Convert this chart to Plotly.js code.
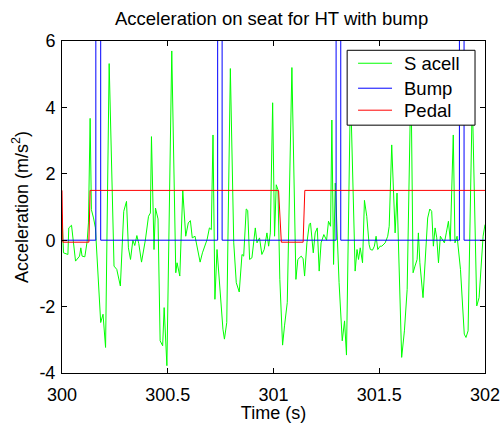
<!DOCTYPE html>
<html>
<head>
<meta charset="utf-8">
<script src="https://cdn.plot.ly/plotly-3.0.1.min.js"></script>
<style>html,body{margin:0;padding:0;background:#fff;}#chart{width:502px;height:423px;}</style>
</head>
<body>
<div id="chart"></div>
<script>
// S acell (green)
const accelTime = [
 300.000,300.007,300.028,300.032,300.045,300.064,300.083,300.089,300.095,300.108,
 300.119,300.125,300.133,300.139,300.149,300.158,300.183,300.194,300.206,300.223,
 300.246,300.259,300.276,300.292,300.305,300.314,300.324,300.335,300.344,300.354,
 300.363,300.376,300.394,300.409,300.418,300.423,300.435,300.442,300.454,300.464,
 300.476,300.483,300.496,300.519,300.538,300.544,300.557,300.571,300.585,300.597,
 300.607,300.616,300.629,300.642,300.653,300.664,300.675,300.686,300.697,300.706,
 300.714,300.723,300.733,300.749,300.761,300.768,300.779,300.796,300.812,300.824,
 300.838,300.851,300.859,300.871,300.878,300.887,300.898,300.914,300.922,300.934,
 300.945,300.956,300.969,300.977,300.985,300.996,301.005,301.013,301.021,301.030,
 301.043,301.052,301.065,301.087,301.106,301.115,301.131,301.140,301.147,301.158,
 301.169,301.175,301.188,301.197,301.207,301.216,301.225,301.238,301.251,301.260,
 301.270,301.276,301.284,301.292,301.310,301.325,301.336,301.345,301.364,301.386,
 301.395,301.402,301.410,301.421,301.430,301.441,301.452,301.458,301.468,301.477,
 301.485,301.493,301.504,301.512,301.528,301.540,301.547,301.559,301.575,301.584,
 301.591,301.606,301.619,301.632,301.650,301.660,301.669,301.679,301.685,301.692,
 301.707,301.720,301.729,301.739,301.748,301.756,301.764,301.772,301.780,301.789,
 301.798,301.808,301.817,301.827,301.836,301.850,301.858,301.868,301.884,301.902,
 301.910,301.920,301.940,301.961,301.972,301.981,301.991,302.000
];
const accelValue = [
 0.77,-0.38,-0.43,0.37,0.45,-0.63,-0.48,-0.23,-0.48,-0.50,
 -0.03,0.52,3.67,0.92,0.67,0.37,-2.48,-2.23,-3.23,5.32,
 -0.78,-0.88,-1.38,0.87,1.17,-0.23,-0.58,0.00,-0.16,0.14,
 -0.10,-0.66,0.00,0.72,0.82,3.12,-0.28,0.97,0.64,-3.03,
 -3.18,-2.03,-3.78,5.70,-0.98,-0.68,-1.08,1.50,0.12,0.52,
 0.59,0.07,0.12,-0.28,-0.66,-0.38,-0.20,0.02,0.37,0.32,
 3.17,-1.78,-0.28,-1.68,-2.68,-2.98,-2.48,5.17,-0.08,-1.28,
 -1.56,-0.43,-0.48,0.94,0.90,-0.58,-0.53,0.37,-0.08,0.07,
 -0.43,-0.28,0.22,-0.18,0.22,4.14,0.12,1.67,1.52,-1.18,
 -3.16,-2.58,-1.88,5.20,-1.18,-0.58,-0.48,-0.56,-1.08,-0.08,
 0.47,0.52,-0.38,0.22,0.37,-0.93,-0.08,0.17,0.00,0.57,
 0.42,3.62,-0.73,1.72,-1.28,-3.03,-2.43,-3.46,4.60,-0.93,
 -0.28,-0.58,-0.23,-0.68,1.20,0.72,-0.13,-0.28,-0.30,-0.18,
 0.12,-0.28,-0.18,-0.18,-0.08,0.12,0.42,2.87,0.22,1.42,
 -0.03,-3.53,-2.73,-1.48,5.00,-0.98,-0.78,-0.58,0.22,-0.68,
 -1.73,-0.08,0.67,0.94,0.87,-0.18,0.37,0.07,-0.68,0.12,
 0.02,-0.08,0.22,0.57,-0.03,3.17,-0.08,0.12,-0.88,-2.83,
 -2.93,-2.73,4.30,-1.98,-1.73,-0.88,0.12,0.47
];
// Bump (blue)
const bumpTime = [300.000,300.160,300.160,300.183,300.183,300.736,300.736,300.757,300.757,
  301.296,301.296,301.318,301.318,301.879,301.879,301.901,301.901,302.000];
const bumpValue = [0,0,10,10,0,0,10,10,0,0,10,10,0,0,10,10,0,0];
// Pedal (red)
const pedalTime = [300.000,300.004,300.127,300.133,301.024,301.037,301.140,301.148,302.000];
const pedalValue = [1.5,-0.06,-0.06,1.5,1.5,-0.06,-0.06,1.5,1.5];
// Series names / colours
const seriesNames = ['S acell','Bump','Pedal'];
const seriesColors = ['#00ff00','#0000ff','#ff0000'];
// Axis ticks
const xTicks = [300,300.5,301,301.5,302];
const xTickText = ['300','300.5','301','301.5','302'];
const yTicks = [-4,-2,0,2,4,6];
const yTickText = ['-4','-2','0','2','4','6'];

const font = 'Arial, "Liberation Sans", Helvetica, sans-serif';
const seriesX = [accelTime, bumpTime, pedalTime];
const seriesY = [accelValue, bumpValue, pedalValue];
const traces = seriesNames.map((n, i) => ({
  x: seriesX[i], y: seriesY[i], type:'scatter', mode:'lines', name:n,
  line:{color:seriesColors[i], width:1}
}));

// Hand-built MATLAB-style legend box (paper coordinates)
const legX0 = 0.6741, legX1 = 0.9764, legY0 = 0.7465, legY1 = 0.9720;
const legRowY = [0.9330, 0.8578, 0.7916];
const shapes = [{type:'rect', xref:'paper', yref:'paper', x0:legX0, x1:legX1, y0:legY0, y1:legY1,
  line:{color:'#000', width:1}, fillcolor:'#fff', layer:'above'}];
const annotations = [];
seriesNames.forEach((n, i) => {
  shapes.push({type:'line', xref:'paper', yref:'paper', x0:0.6999, x1:0.7802,
    y0:legRowY[i], y1:legRowY[i], line:{color:seriesColors[i], width:1}, layer:'above'});
  annotations.push({xref:'paper', yref:'paper', x:0.8040, y:legRowY[i], xanchor:'left', yanchor:'middle',
    text:n, showarrow:false, font:{family:font, size:18.5, color:'#000'}});
});

const axisCommon = {
  showline:true, linecolor:'#000', linewidth:1, mirror:'ticks',
  ticks:'inside', ticklen:5, tickcolor:'#000', showgrid:false, zeroline:false,
  tickfont:{family:font, size:18, color:'#000'}
};
const layout = {
  width:502, height:423,
  margin:{l:61.5, r:17, t:40.7, b:49.7, pad:0},
  paper_bgcolor:'#fff', plot_bgcolor:'#fff',
  font:{family:font, color:'#000'},
  title:{text:'Acceleration on seat for HT with bump', font:{family:font, size:18.5, color:'#000'},
    x:0.541, xanchor:'center', y:0.957, yanchor:'middle'},
  xaxis:Object.assign({}, axisCommon, {range:[300,302], tickvals:xTicks, ticktext:xTickText,
    ticklabelstandoff:5,
    title:{text:'Time (s)', font:{family:font, size:18, color:'#000'}, standoff:0}}),
  yaxis:Object.assign({}, axisCommon, {range:[-4,6], tickvals:yTicks, ticktext:yTickText,
    ticklabelstandoff:2,
    title:{text:'Acceleration (m/s<sup>2</sup>)', font:{family:font, size:18, color:'#000'}, standoff:6}}),
  showlegend:false,
  shapes:shapes,
  annotations:annotations
};
Plotly.newPlot('chart', traces, layout, {displayModeBar:false, staticPlot:true});
</script>
</body>
</html>
